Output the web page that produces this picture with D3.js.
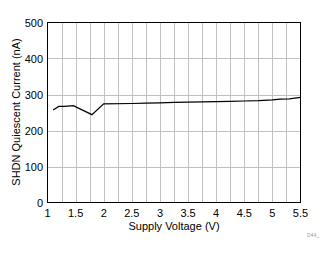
<!DOCTYPE html>
<html>
<head>
<meta charset="utf-8">
<script src="https://cdn.jsdelivr.net/npm/d3@7"></script>
<style>
  body { margin: 0; background: #fff; }
  text { font-family: "Liberation Sans", Arial, sans-serif; }
</style>
</head>
<body>
<svg width="334" height="254"></svg>
<script>
// supply voltage (V) and shutdown current (nA)
const voltage = [1.1, 1.2, 1.3, 1.46, 1.79, 2.0, 2.5, 2.75, 3.0, 3.25, 3.5, 4.0, 4.25, 4.5, 4.76, 5.0, 5.14, 5.3, 5.4, 5.5];
const current = [257, 267, 267, 269, 244, 274, 275, 276, 277, 278, 279, 280, 281, 282, 283, 285, 287, 288, 290, 292];
const xTicks = [1, 1.5, 2, 2.5, 3, 3.5, 4, 4.5, 5, 5.5];
const yTicks = [0, 100, 200, 300, 400, 500];

const svg = d3.select("svg");
const m = {left: 47.5, right: 300.5, top: 22.5, bottom: 202.5};

const x = d3.scaleLinear().domain([1, 5.5]).range([m.left, m.right]);
const y = d3.scaleLinear().domain([0, 500]).range([m.bottom, m.top]);

// grid
svg.append("g").selectAll("line")
    .data(d3.range(1.25, 5.5, 0.25))
    .join("line")
    .attr("x1", d => Math.round(x(d)) + 0.5).attr("x2", d => Math.round(x(d)) + 0.5)
    .attr("y1", m.top).attr("y2", m.bottom)
    .attr("stroke", "#c0c0c0");
svg.append("g").selectAll("line")
    .data(yTicks.slice(1, -1))
    .join("line")
    .attr("y1", d => Math.round(y(d)) + 0.5).attr("y2", d => Math.round(y(d)) + 0.5)
    .attr("x1", m.left).attr("x2", m.right)
    .attr("stroke", "#c0c0c0");

// frame
svg.append("rect")
    .attr("x", m.left).attr("y", m.top)
    .attr("width", m.right - m.left).attr("height", m.bottom - m.top)
    .attr("fill", "none").attr("stroke", "#000");

// tick labels
svg.append("g").selectAll("text")
    .data(xTicks)
    .join("text")
    .attr("x", d => x(d)).attr("y", 217)
    .attr("text-anchor", "middle")
    .attr("font-size", 11)
    .text(d => d);
svg.append("g").selectAll("text")
    .data(yTicks)
    .join("text")
    .attr("x", 43).attr("y", d => y(d) + 4)
    .attr("text-anchor", "end")
    .attr("font-size", 11)
    .text(d => d);

// axis titles
svg.append("text")
    .attr("x", 174).attr("y", 230)
    .attr("text-anchor", "middle").attr("font-size", 11)
    .text("Supply Voltage (V)");
svg.append("text")
    .attr("transform", "translate(20,112) rotate(-90)")
    .attr("text-anchor", "middle").attr("font-size", 11)
    .text("SHDN Quiescent Current (nA)");

svg.append("text")
    .attr("x", 307).attr("y", 237)
    .attr("font-size", 5).attr("fill", "#999")
    .text("D44_");

// data line
const line = d3.line().x((d, i) => x(voltage[i])).y(d => y(d));
svg.append("path")
    .datum(current)
    .attr("d", line)
    .attr("fill", "none")
    .attr("stroke", "#000")
    .attr("stroke-width", 1.2);
</script>
</body>
</html>
